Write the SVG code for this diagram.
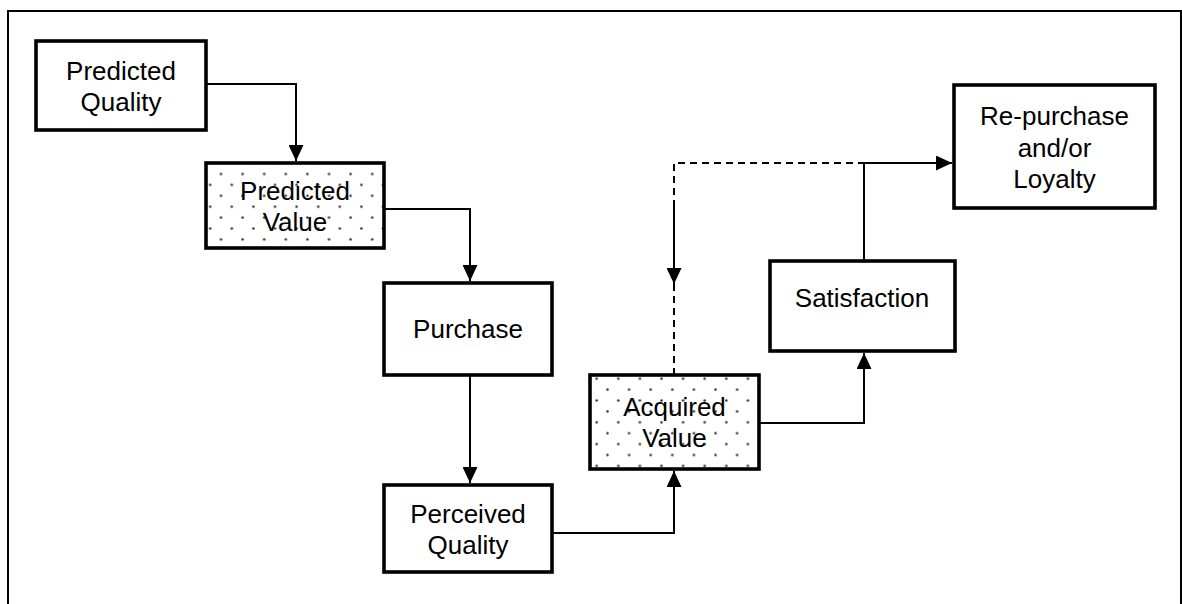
<svg xmlns="http://www.w3.org/2000/svg" width="1182" height="604" viewBox="0 0 1182 604">
  <style>
    .box { fill: #fff; stroke: #000; stroke-width: 3.6; }
    .dotted { stroke: #000; stroke-width: 3.6; }
    .lbl { font-family: "Liberation Sans", Arial, sans-serif; font-size: 26px; fill: #000; text-anchor: middle; }
    .conn { fill: none; stroke: #000; stroke-width: 2; }
    .dash { fill: none; stroke: #000; stroke-width: 2; stroke-dasharray: 7 5; }
    .dot { fill: #333; }
  </style>
  <defs>
    <marker id="arrow" markerUnits="userSpaceOnUse" markerWidth="16" markerHeight="15" viewBox="0 0 16 15" refX="16" refY="7.5" orient="auto">
      <path d="M0,0 L16,7.5 L0,15 z" fill="#000"/>
    </marker>
    <pattern id="dotsPV" patternUnits="userSpaceOnUse" x="215.6" y="168.55" width="21.6" height="21.8">
      <circle class="dot" cx="5.4" cy="5.45" r="1.25"/>
      <circle class="dot" cx="16.2" cy="16.35" r="1.25"/>
    </pattern>
    <pattern id="dotsAV" patternUnits="userSpaceOnUse" x="591.3" y="373.25" width="21.6" height="21.8">
      <circle class="dot" cx="5.4" cy="5.45" r="1.25"/>
      <circle class="dot" cx="16.2" cy="16.35" r="1.25"/>
    </pattern>
  </defs>

  <rect x="0" y="0" width="1182" height="604" fill="#fff"/>
  <rect id="frame" x="8" y="11" width="1173" height="640" fill="none" stroke="#000" stroke-width="2"/>

  <g id="connectors">
    <path class="conn" d="M206,84 H296 V161" marker-end="url(#arrow)"/>
    <path class="conn" d="M384,209 H470 V281" marker-end="url(#arrow)"/>
    <path class="conn" d="M470,375 V483" marker-end="url(#arrow)"/>
    <path class="conn" d="M552,533 H674 V471" marker-end="url(#arrow)"/>
    <path class="conn" d="M759,423 H864 V353" marker-end="url(#arrow)"/>
    <path class="conn" d="M864,261 V163 H952" marker-end="url(#arrow)"/>
    <path class="dash" d="M674,375 V163 H864"/>
    <path class="conn" d="M674,205 V284" marker-end="url(#arrow)"/>
  </g>

  <g id="predicted-quality">
    <rect class="box" x="36" y="41" width="170" height="89"/>
    <text class="lbl" x="121" y="80">Predicted</text>
    <text class="lbl" x="121" y="111">Quality</text>
  </g>

  <g id="predicted-value">
    <rect x="206" y="163" width="178" height="85" fill="#fff"/>
    <rect class="dotted" x="206" y="163" width="178" height="85" fill="url(#dotsPV)"/>
    <text class="lbl" x="295" y="199.5">Predicted</text>
    <text class="lbl" x="295" y="230.5">Value</text>
  </g>

  <g id="purchase">
    <rect class="box" x="384" y="283" width="168" height="92"/>
    <text class="lbl" x="468" y="338">Purchase</text>
  </g>

  <g id="perceived-quality">
    <rect class="box" x="384" y="485" width="168" height="87"/>
    <text class="lbl" x="468" y="522.5">Perceived</text>
    <text class="lbl" x="468" y="553.5">Quality</text>
  </g>

  <g id="acquired-value">
    <rect x="590" y="375" width="169" height="94" fill="#fff"/>
    <rect class="dotted" x="590" y="375" width="169" height="94" fill="url(#dotsAV)"/>
    <text class="lbl" x="674.5" y="415.5">Acquired</text>
    <text class="lbl" x="674.5" y="446.5">Value</text>
  </g>

  <g id="satisfaction">
    <rect class="box" x="770" y="261" width="185" height="90"/>
    <text class="lbl" x="862" y="306.5">Satisfaction</text>
  </g>

  <g id="repurchase-loyalty">
    <rect class="box" x="954" y="85" width="201" height="123"/>
    <text class="lbl" x="1054.5" y="125">Re-purchase</text>
    <text class="lbl" x="1054.5" y="156.5">and/or</text>
    <text class="lbl" x="1054.5" y="188">Loyalty</text>
  </g>
</svg>
